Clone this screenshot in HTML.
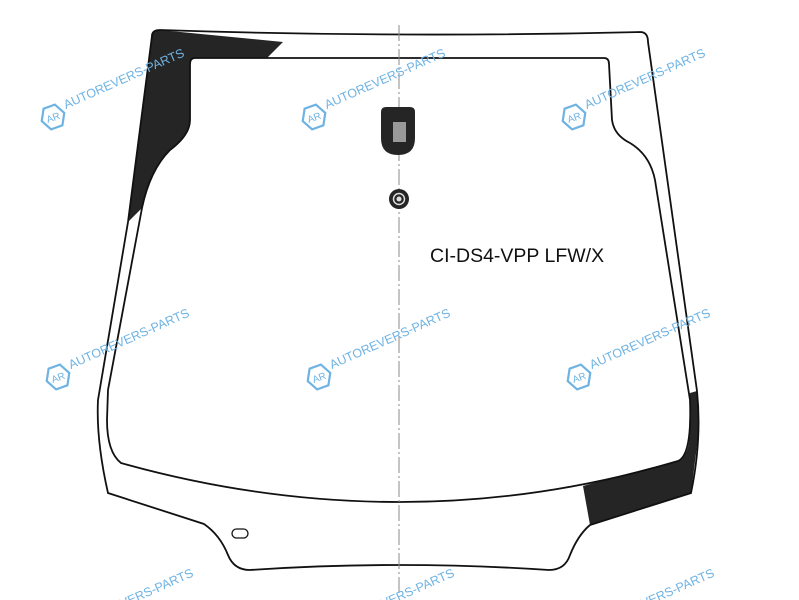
<!DOCTYPE html>
<html><head><meta charset="utf-8"><style>
html,body{margin:0;padding:0;background:#fff;overflow:hidden;width:799px;height:600px;}
svg{display:block;}
.wm{font-family:"Liberation Sans Narrow","Liberation Sans",sans-serif;font-size:12.5px;fill:#6fb3e3;}
</style></head><body>
<svg width="799" height="600" viewBox="0 0 799 600" xmlns="http://www.w3.org/2000/svg">
<defs>
<g id="wm">
  <polygon points="-6,-11 6,-11 12,0 6,11 -6,11 -12,0" fill="none" stroke="#6fb3e3" stroke-width="2.2" transform="rotate(-20)"/>
  <text x="-7" y="4" font-family="Liberation Sans,sans-serif" font-size="10" fill="#6fb3e3" transform="rotate(-20)">AR</text>
  <text class="wm" x="15" y="-2" transform="rotate(-24)">AUTOREVERS-PARTS</text>
</g>
</defs>
<!-- black left pillar -->
<path d="M152,36 Q152,30 160,30 L283,42 L267,58 L195,58 Q190,58 190,64 L190,120 Q190,135 170,150 Q150,170 142,208 L128,222 Z" fill="#252525"/>
<!-- black right bottom -->
<path d="M583,486 Q640,470 678,461 Q688,455 689,440 L690,393 L697,391 L699,430 L691,493 L590,525 Z" fill="#252525"/>
<!-- outer -->
<path d="M160,30 Q400,38 640,32 Q648,32 648,42 L697,391 Q702,440 691,493 L590,525 Q578,535 570,555 Q565,570 549,570 Q400,560 250,570 Q234,570 228,555 Q220,535 204,524 L108,493 Q96,440 98,400 L128,222 L152,36 Q152,30 160,30 Z" fill="none" stroke="#111" stroke-width="1.8"/>
<!-- inner -->
<path d="M195,58 L604,58 Q609,58 609,64 L612,120 Q614,135 630,143 Q650,155 655,180 L690,400 Q692,455 678,461 Q540,502 400,502 Q260,502 121,463 Q107,452 107,420 L108,390 L142,208 Q150,170 170,150 Q190,135 190,120 L190,64 Q190,58 195,58 Z" fill="none" stroke="#111" stroke-width="1.8"/>
<!-- center line -->
<line x1="399" y1="25" x2="399" y2="595" stroke="#888" stroke-width="1" stroke-dasharray="16,3,2,3"/>
<!-- mirror mount -->
<path d="M381,112 Q381,107 386,107 L410,107 Q415,107 415,112 L415,138 Q415,155 398,155 Q381,155 381,138 Z" fill="#252525"/>
<rect x="393" y="122" width="13" height="20" fill="#999"/>
<circle cx="399" cy="199" r="10" fill="#252525"/>
<circle cx="399" cy="199" r="5.5" fill="none" stroke="#ddd" stroke-width="1.5"/>
<circle cx="399" cy="199" r="2.5" fill="#ddd"/>
<!-- small oval -->
<rect x="232" y="529" width="16" height="9" rx="4.5" fill="none" stroke="#111" stroke-width="1.3"/>
<text x="430" y="262" font-family="Liberation Sans,sans-serif" font-size="19.5" fill="#111">CI-DS4-VPP LFW/X</text>
<use href="#wm" x="53" y="117"/>
<use href="#wm" x="314" y="117"/>
<use href="#wm" x="574" y="117"/>
<use href="#wm" x="58" y="377"/>
<use href="#wm" x="319" y="377"/>
<use href="#wm" x="579" y="377"/>
<use href="#wm" x="62" y="637"/>
<use href="#wm" x="323" y="637"/>
<use href="#wm" x="583" y="637"/>
</svg>
</body></html>
